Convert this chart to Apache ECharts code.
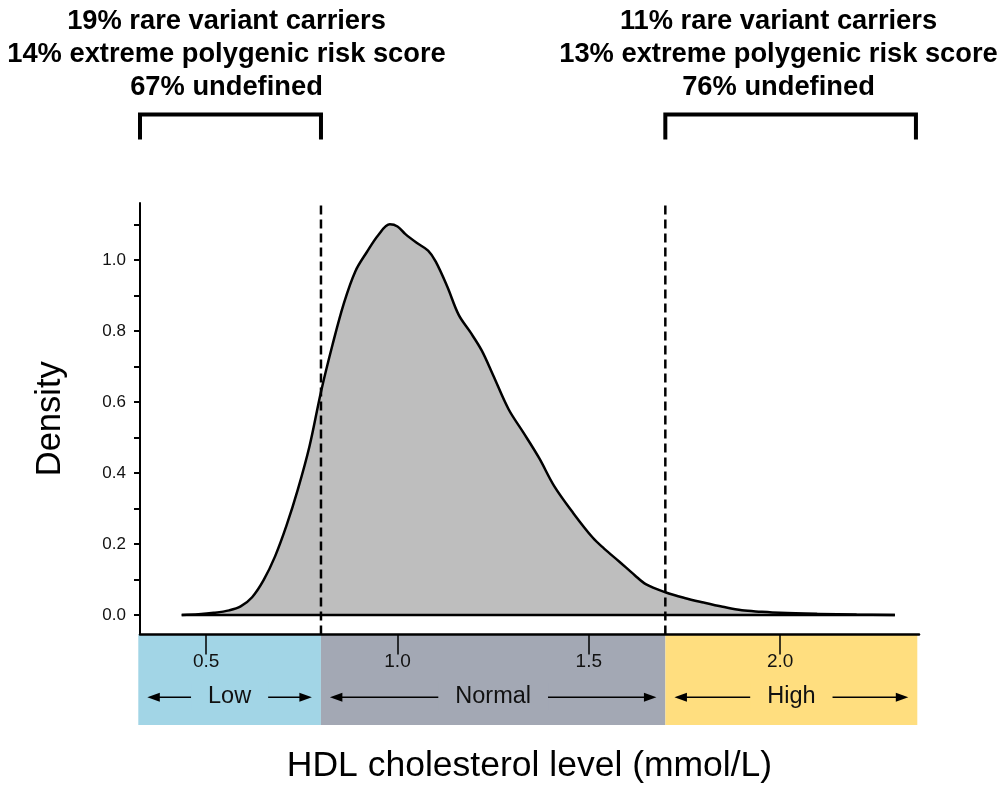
<!DOCTYPE html>
<html>
<head>
<meta charset="utf-8">
<script src="https://cdn.jsdelivr.net/npm/echarts@6/dist/echarts.min.js"></script>
<style>
html,body{margin:0;padding:0;background:#fff;}
#c{width:1005px;height:787px;}
</style>
</head>
<body>
<div id="c"></div>
<script>
// ---------- data ----------
const hdlX = [0.436,0.48,0.52,0.56,0.59,0.62,0.65,0.68,0.71,0.74,0.77,0.80,0.83,0.86,0.89,0.92,0.95,0.98,1.00,1.02,1.05,1.08,1.10,1.13,1.16,1.19,1.22,1.25,1.29,1.33,1.37,1.41,1.46,1.51,1.54,1.58,1.62,1.65,1.70,1.75,1.80,1.85,1.90,1.95,2.00,2.10,2.20,2.30];
const density = [0.000,0.002,0.006,0.013,0.024,0.050,0.098,0.165,0.252,0.355,0.475,0.628,0.760,0.878,0.968,1.022,1.070,1.100,1.094,1.073,1.048,1.026,0.995,0.925,0.845,0.797,0.745,0.675,0.580,0.512,0.442,0.362,0.286,0.218,0.187,0.150,0.112,0.086,0.064,0.048,0.035,0.023,0.013,0.009,0.006,0.003,0.001,0.000];
const xTickValues = [0.5, 1.0, 1.5, 2.0];
const yTickValues = [0.0,0.1,0.2,0.3,0.4,0.5,0.6,0.7,0.8,0.9,1.0,1.1];
const yLabelValues = [0.0,0.2,0.4,0.6,0.8,1.0];
const cutoffs = [0.8, 1.7];
const bandNames = ['Low', 'Normal', 'High'];
const bandStarts = [0.323, 0.8, 1.7];
const bandEnds = [0.8, 1.7, 2.358];
const bandColors = ['#A2D5E6', '#A3A8B4', '#FFDE7F'];
const bracketStarts = [0.327, 1.7];
const bracketEnds = [0.8, 2.355];
const groupTexts = [
  ['19% rare variant carriers', '14% extreme polygenic risk score', '67% undefined'],
  ['11% rare variant carriers', '13% extreme polygenic risk score', '76% undefined']
];
const xTitle = 'HDL cholesterol level (mmol/L)';
const yTitle = 'Density';

// ---------- layout ----------
const X_MIN = 0.327, X_MAX = 2.363, Y_MIN = -0.055, Y_MAX = 1.16, DASH_TOP = 1.155;
const FONT = '"Liberation Sans", Arial, Helvetica, sans-serif';

const chart = echarts.init(document.getElementById('c'));
const curve = hdlX.map((x, i) => [x, density[i]]);

const option = {
  animation: false,
  backgroundColor: '#fff',
  textStyle: { fontFamily: FONT },
  grid: [
    { left: 140, top: 203, width: 779, height: 431.5, containLabel: false, outerBoundsMode: 'none' },
    { left: 138.3, top: 634.5, width: 779, height: 90.5, containLabel: false, outerBoundsMode: 'none' }
  ],
  xAxis: [
    {
      type: 'value', gridIndex: 0, min: X_MIN, max: X_MAX, z: 10,
      axisLine: { show: true, onZero: false, lineStyle: { color: '#000', width: 2.5 } },
      axisTick: { show: true, customValues: xTickValues, length: 20, lineStyle: { color: '#000', width: 1.5 } },
      axisLabel: { show: true, customValues: xTickValues, margin: 18, fontSize: 19, color: '#111', fontFamily: FONT,
                   formatter: v => v.toFixed(1) },
      splitLine: { show: false },
      name: xTitle, nameLocation: 'middle', nameGap: 114,
      nameTextStyle: { fontSize: 35.5, color: '#000', fontFamily: FONT }
    },
    { type: 'value', gridIndex: 1, min: 0.323, max: 2.358, show: false }
  ],
  yAxis: [
    {
      type: 'value', gridIndex: 0, min: Y_MIN, max: Y_MAX,
      axisLine: { show: true, onZero: false, lineStyle: { color: '#000', width: 2 } },
      axisTick: { show: true, customValues: yTickValues, length: 6, lineStyle: { color: '#000', width: 2 } },
      axisLabel: { show: true, customValues: yLabelValues, margin: 14, fontSize: 17, color: '#111', fontFamily: FONT,
                   formatter: v => v.toFixed(1) },
      splitLine: { show: false },
      name: yTitle, nameLocation: 'middle', nameGap: 72,
      nameTextStyle: { fontSize: 34.5, color: '#000', fontFamily: FONT }
    },
    { type: 'value', gridIndex: 1, min: 0, max: 1, show: false }
  ],
  series: [
    {
      type: 'line', xAxisIndex: 0, yAxisIndex: 0, data: curve,
      smooth: 0.35, symbol: 'none', z: 2,
      lineStyle: { color: '#000', width: 2.5 },
      areaStyle: { color: '#BEBEBE', opacity: 1, origin: 0 }
    },
    {
      type: 'line', xAxisIndex: 0, yAxisIndex: 0,
      data: [[hdlX[0], 0], [hdlX[hdlX.length - 1], 0]],
      symbol: 'none', z: 3, lineStyle: { color: '#000', width: 2.5 }
    },
    {
      type: 'custom', xAxisIndex: 0, yAxisIndex: 0, z: 4,
      data: cutoffs.map(c => [c, 0]), encode: { x: 0, y: 1 },
      renderItem: function (params, api) {
        const c = api.value(0);
        const p0 = api.coord([c, Y_MIN]);
        const p1 = api.coord([c, DASH_TOP]);
        return {
          type: 'line',
          shape: { x1: p0[0], y1: p0[1], x2: p1[0], y2: p1[1] },
          style: { stroke: '#000', lineWidth: 2.5, lineDash: [9, 5] }
        };
      }
    },
    {
      type: 'custom', xAxisIndex: 1, yAxisIndex: 1, z: 1,
      data: bandStarts.map((s, i) => [s, bandEnds[i], i]), encode: { x: [0, 1], y: 2 },
      renderItem: function (params, api) {
        const s = api.value(0), e = api.value(1), i = api.value(2);
        const pTop = api.coord([s, 1]);
        const pBot = api.coord([e, 0]);
        const ay = api.coord([s, 0.306])[1];
        const xl = pTop[0] + 9, xr = pBot[0] - 9;
        const hl = 12.5, hh = 4.5;
        return {
          type: 'group',
          children: [
            { type: 'rect', shape: { x: pTop[0], y: pTop[1], width: pBot[0] - pTop[0], height: pBot[1] - pTop[1] },
              style: { fill: bandColors[i] } },
            { type: 'line', shape: { x1: xl + hl - 1, y1: ay, x2: xr - hl + 1, y2: ay },
              style: { stroke: '#000', lineWidth: 1.5 } },
            { type: 'polygon', shape: { points: [[xl, ay], [xl + hl, ay - hh], [xl + hl, ay + hh]] },
              style: { fill: '#000' } },
            { type: 'polygon', shape: { points: [[xr, ay], [xr - hl, ay - hh], [xr - hl, ay + hh]] },
              style: { fill: '#000' } },
            { type: 'text', x: (xl + xr) / 2, y: ay - 1,
              style: { text: bandNames[i], fontSize: 23.5, fontFamily: FONT, fill: '#111',
                       align: 'center', verticalAlign: 'middle',
                       backgroundColor: bandColors[i], padding: [2, 17] } }
          ]
        };
      }
    },
    {
      type: 'custom', xAxisIndex: 0, yAxisIndex: 0, z: 5,
      data: bracketStarts.map((s, i) => [s, bracketEnds[i], 0]), encode: { x: [0, 1], y: 2 },
      renderItem: function (params, api) {
        const x1 = api.coord([api.value(0), 0])[0];
        const x2 = api.coord([api.value(1), 0])[0];
        return {
          type: 'polyline',
          shape: { points: [[x1, 139.5], [x1, 114.5], [x2, 114.5], [x2, 139.5]] },
          style: { stroke: '#000', lineWidth: 4, fill: null, lineJoin: 'miter' }
        };
      }
    }
  ],
  graphic: [
    { type: 'text', x: 226.5, y: 54,
      style: { text: groupTexts[0].join('\n'), fontSize: 27.3, fontWeight: 'bold', fontFamily: FONT,
               lineHeight: 33, fill: '#000', align: 'center', verticalAlign: 'middle' } },
    { type: 'text', x: 778.5, y: 54,
      style: { text: groupTexts[1].join('\n'), fontSize: 27.3, fontWeight: 'bold', fontFamily: FONT,
               lineHeight: 33, fill: '#000', align: 'center', verticalAlign: 'middle' } }
  ]
};
chart.setOption(option);
</script>
</body>
</html>
